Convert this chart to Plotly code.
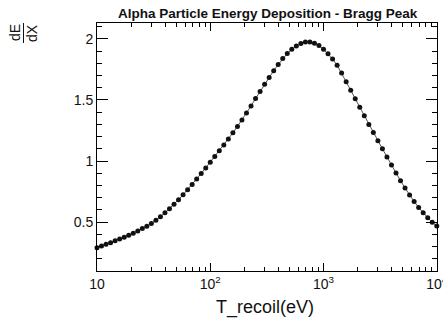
import plotly.graph_objects as go

# Data (T_recoil in eV, dE/dX)
t_recoil = [10.0, 10.96, 12.02, 13.18, 14.45, 15.85, 17.38, 19.05, 20.89, 22.91,
            25.12, 27.54, 30.20, 33.11, 36.31, 39.81, 43.65, 47.86, 52.48, 57.54,
            63.10, 69.18, 75.86, 83.18, 91.20, 100.0, 109.6, 120.2, 131.8, 144.5,
            158.5, 173.8, 190.5, 208.9, 229.1, 251.2, 275.4, 302.0, 331.1, 363.1,
            398.1, 436.5, 478.6, 524.8, 575.4, 631.0, 691.8, 758.6, 831.8, 912.0,
            1000, 1096, 1202, 1318, 1445, 1585, 1738, 1905, 2089, 2291,
            2512, 2754, 3020, 3311, 3631, 3981, 4365, 4786, 5248, 5754,
            6310, 6918, 7586, 8318, 9120, 10000]
dedx = [0.290, 0.304, 0.318, 0.332, 0.347, 0.362, 0.377, 0.393, 0.410, 0.428,
        0.447, 0.467, 0.489, 0.515, 0.544, 0.576, 0.610, 0.646, 0.684, 0.724,
        0.766, 0.809, 0.853, 0.898, 0.944, 0.991, 1.037, 1.084, 1.132, 1.181,
        1.231, 1.283, 1.337, 1.393, 1.451, 1.511, 1.570, 1.628, 1.684, 1.740,
        1.790, 1.840, 1.880, 1.915, 1.942, 1.962, 1.974, 1.975, 1.965, 1.945,
        1.915, 1.878, 1.835, 1.785, 1.720, 1.650, 1.580, 1.510, 1.440, 1.370,
        1.300, 1.233, 1.166, 1.100, 1.034, 0.967, 0.902, 0.839, 0.779, 0.722,
        0.669, 0.620, 0.576, 0.536, 0.500, 0.468]

x_tickvals = [10, 100, 1000, 10000]
x_ticktext = ["10", "10<sup>2</sup>", "10<sup>3</sup>", "10<sup>4</sup>"]
x_minor = [20, 30, 40, 50, 60, 70, 80, 90,
           200, 300, 400, 500, 600, 700, 800, 900,
           2000, 3000, 4000, 5000, 6000, 7000, 8000, 9000]
y_tickvals = [0.5, 1, 1.5, 2]
y_ticktext = ["0.5", "1", "1.5", "2"]
y_minor = [0.2, 0.3, 0.4, 0.6, 0.7, 0.8, 0.9, 1.1, 1.2, 1.3, 1.4,
           1.6, 1.7, 1.8, 1.9, 2.1]

title_text = "<b>Alpha Particle Energy Deposition - Bragg Peak</b>"
x_title = "T_recoil(eV)"

W, H = 443, 323
L, R, T, B = 97, 6, 23, 52
pw, ph = W - L - R, H - T - B


def px(x):
    return (x - L) / pw


def py(y):
    return (H - B - y) / ph


FONT = "Liberation Sans, Arial, sans-serif"
INK = "#111111"

fig = go.Figure()
fig.add_trace(go.Scatter(
    x=t_recoil, y=dedx, mode="lines+markers",
    line=dict(color="#555555", width=1),
    marker=dict(color=INK, size=5, symbol="circle"),
    showlegend=False, hoverinfo="skip", cliponaxis=False,
))

axis_common = dict(
    showline=True, linecolor="black", linewidth=1, mirror="allticks",
    ticks="inside", tickcolor="black", showgrid=False, zeroline=False,
    tickfont=dict(family=FONT, size=14, color=INK),
    ticklabeloverflow="allow", automargin=False,
)

fig.update_xaxes(
    type="log", range=[1, 4.002], tickmode="array",
    tickvals=x_tickvals, ticktext=x_ticktext, ticklen=8, tickwidth=1,
    minor=dict(ticks="inside", tickmode="array", tickvals=x_minor,
               ticklen=4, tickcolor="black", tickwidth=1, showgrid=False),
    **axis_common,
)
fig.update_yaxes(
    range=[0.1, 2.13], tickmode="array",
    tickvals=y_tickvals, ticktext=y_ticktext, ticklen=11, tickwidth=1,
    minor=dict(ticks="inside", tickmode="array", tickvals=y_minor,
               ticklen=5, tickcolor="black", tickwidth=1, showgrid=False),
    **axis_common,
)

annotations = [
    dict(text=title_text, x=px(268), y=py(14), xref="paper", yref="paper",
         showarrow=False, font=dict(family=FONT, size=13.5, color=INK),
         xanchor="center", yanchor="middle"),
    dict(text=x_title, x=px(265), y=py(307), xref="paper", yref="paper",
         showarrow=False, font=dict(family=FONT, size=18, color=INK),
         xanchor="center", yanchor="middle"),
    dict(text="dE", x=px(15), y=py(33), xref="paper", yref="paper",
         showarrow=False, textangle=-90,
         font=dict(family=FONT, size=14, color=INK),
         xanchor="center", yanchor="middle"),
    dict(text="dX", x=px(32), y=py(33), xref="paper", yref="paper",
         showarrow=False, textangle=-90,
         font=dict(family=FONT, size=14, color=INK),
         xanchor="center", yanchor="middle"),
]

shapes = [
    dict(type="line", xref="paper", yref="paper",
         x0=px(23.5), x1=px(23.5), y0=py(23), y1=py(43),
         line=dict(color=INK, width=1)),
]

fig.update_layout(
    width=W, height=H,
    margin=dict(l=L, r=R, t=T, b=B, pad=0, autoexpand=False),
    paper_bgcolor="white", plot_bgcolor="white",
    annotations=annotations, shapes=shapes,
    font=dict(family=FONT),
)

fig.write_html("out.html")
